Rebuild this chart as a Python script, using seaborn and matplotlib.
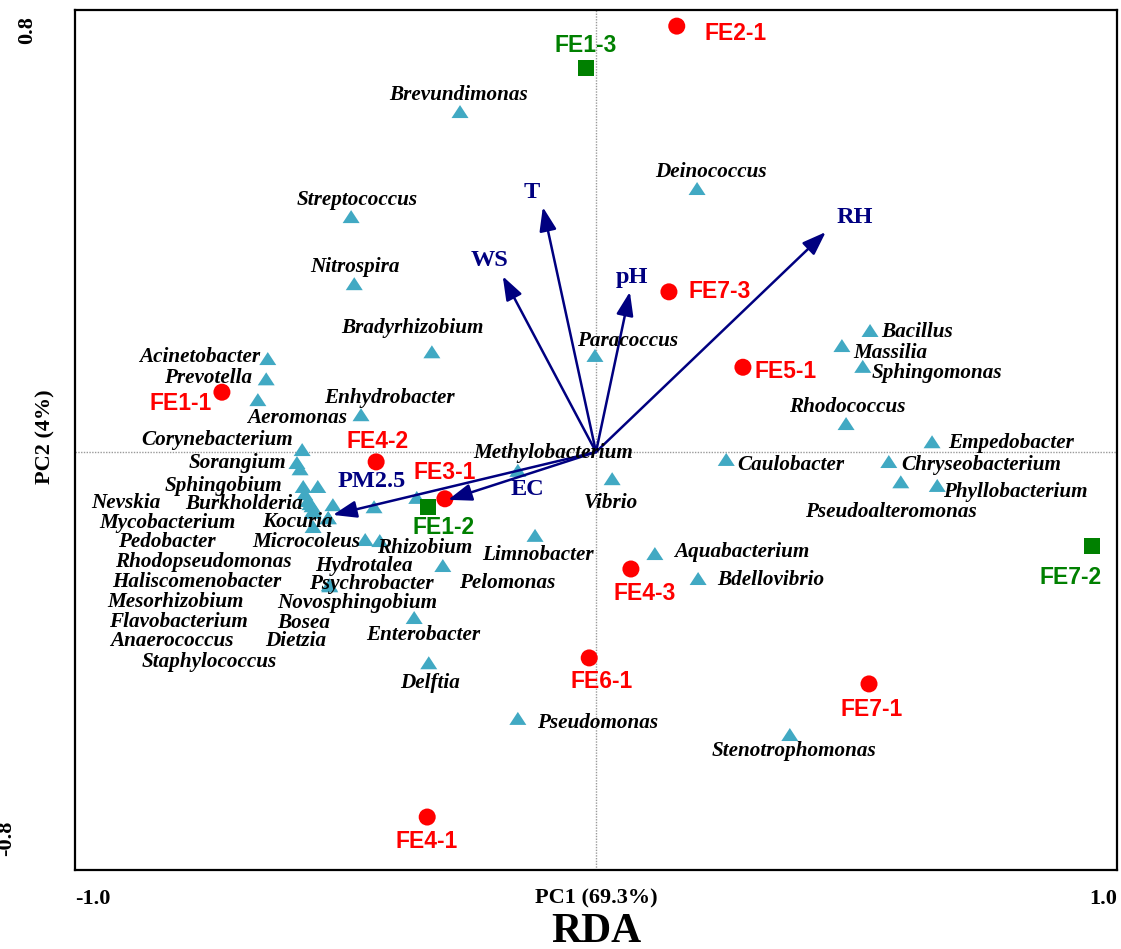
import matplotlib
matplotlib.use("Agg")
import matplotlib.pyplot as plt
import seaborn as sns
import pandas as pd

# ---------------- data ----------------
sample_red = ["FE2-1", "FE7-3", "FE5-1", "FE1-1", "FE4-2", "FE3-1", "FE4-3", "FE6-1", "FE7-1", "FE4-1"]
red_x = [0.155, 0.140, 0.282, -0.718, -0.422, -0.290, 0.067, -0.013, 0.524, -0.324]
red_y = [0.819, 0.308, 0.163, 0.115, -0.019, -0.090, -0.225, -0.396, -0.446, -0.702]

sample_green = ["FE1-3", "FE1-2", "FE7-2"]
green_x = [-0.019, -0.322, 0.952]
green_y = [0.738, -0.106, -0.181]

env_names = ["T", "WS", "pH", "RH", "PM2.5", "EC"]
env_x = [-0.102, -0.179, 0.065, 0.441, -0.505, -0.284]
env_y = [0.471, 0.338, 0.308, 0.423, -0.121, -0.092]

species = ["Brevundimonas", "Deinococcus", "Streptococcus", "Nitrospira", "Bradyrhizobium",
           "Paracoccus", "Bacillus", "Massilia", "Sphingomonas", "Rhodococcus",
           "Empedobacter", "Chryseobacterium", "Pseudoalteromonas", "Phyllobacterium",
           "Caulobacter", "Vibrio", "Methylobacterium", "Limnobacter", "Aquabacterium",
           "Bdellovibrio", "Pelomonas", "Enterobacter", "Delftia", "Pseudomonas",
           "Stenotrophomonas", "Acinetobacter", "Prevotella", "Aeromonas", "Enhydrobacter",
           "Corynebacterium", "Sorangium", "Nevskia", "Sphingobium", "Mycobacterium",
           "Burkholderia", "Pedobacter", "Rhodopseudomonas", "Kocuria", "Haliscomenobacter",
           "Mesorhizobium", "Hydrotalea", "Novosphingobium", "Microcoleus", "Rhizobium",
           "Psychrobacter", "Flavobacterium", "Anaerococcus", "Staphylococcus", "Bosea",
           "Dietzia"]
species_x = [-0.261, 0.194, -0.470, -0.464, -0.315,
             -0.002, 0.526, 0.472, 0.512, 0.480,
             0.645, 0.562, 0.585, 0.655,
             0.250, 0.031, -0.150, -0.117, 0.113,
             0.196, -0.294, -0.349, -0.321, -0.150,
             0.372, -0.630, -0.633, -0.649, -0.451,
             -0.564, -0.574, -0.568, -0.562, -0.534,
             -0.553, -0.545, -0.543, -0.514, -0.505,
             -0.543, -0.426, -0.344, -0.443, -0.415,
             -0.512, -0.549, -0.543, -0.559, -0.514,
             -0.511]
species_y = [0.652, 0.504, 0.450, 0.321, 0.190,
             0.183, 0.231, 0.202, 0.162, 0.052,
             0.017, -0.021, -0.060, -0.067,
             -0.017, -0.054, -0.038, -0.163, -0.198,
             -0.246, -0.221, -0.321, -0.408, -0.515,
             -0.546, 0.177, 0.138, 0.098, 0.069,
             0.002, -0.023, -0.035, -0.069, -0.069,
             -0.096, -0.106, -0.119, -0.129, -0.104,
             -0.146, -0.108, -0.090, -0.171, -0.173,
             -0.258, -0.102, -0.115, -0.083, -0.129,
             -0.260]

x_ticks = [-1.0, 0.0, 1.0]
x_tick_labels = ["-1.0", "PC1 (69.3%)", "1.0"]

# ---------------- layout (label offsets in pixels: dx right, dy down) ----------------
red_label_off = [(59, 7), (51, 0), (43, 4), (-41, 11), (1, -20), (0, -26),
                 (14, 24), (12, 24), (3, 26), (-1, 24)]
green_label_off = [(0, -23), (15, 20), (-21, 31)]
env_label_off = [(-11, -15), (-13, -16), (2, -14), (29, -15), (39, -33), (79, -10)]
species_label_off = [(-1, -18), (14, -18), (6, -18), (1, -18), (-19, -25),
                     (33, -16), (47, 0), (48, 6), (74, 5), (1, -18),
                     (79, 0), (92, 2), (-10, 29), (78, 5),
                     (65, 4), (-1, 23), (35, -19), (3, 18), (87, -3),
                     (73, 0), (64, 16), (9, 16), (1, 19), (80, 3),
                     (4, 15), (-68, -3), (-58, -2), (39, 17), (28, -18),
                     (-85, -11), (-60, -1), (-174, 33), (-80, -2), (-150, 35),
                     (-64, 2), (-145, 35), (-110, 48), (-31, 3), (-136, 76),
                     (-138, 74), (-10, 58), (-60, 104), (-59, 1), (45, 6),
                     (42, -2), (-132, 117), (-141, 129), (-96, 167), (-25, 104),
                     (-34, 54)]

RED = "#FF0000"
GREEN = "#008000"
CYAN = "#41A9C3"
NAVY = "#000080"

sns.set_theme(style="white")
plt.rcParams["font.family"] = ["Liberation Serif", "DejaVu Serif"]
plt.rcParams["text.color"] = "black"
plt.rcParams["xtick.color"] = "black"
plt.rcParams["ytick.color"] = "black"
plt.rcParams["xtick.labelcolor"] = "black"

fig = plt.figure(figsize=(11.21, 9.49), dpi=100)
ax = fig.add_axes([75 / 1121, 79 / 949, 1042 / 1121, 860 / 949])

ax.axvline(0, color="#9a9a9a", lw=1.0, ls=(0, (1, 1)), zorder=0)
ax.axhline(0, color="#9a9a9a", lw=1.0, ls=(0, (1, 1)), zorder=0)

tri = [(-1.0, -0.6), (1.0, -0.6), (0.0, 0.93)]
df_sp = pd.DataFrame({"x": species_x, "y": species_y, "name": species})
sns.scatterplot(data=df_sp, x="x", y="y", marker=tri, color=CYAN, s=150,
                edgecolor="none", linewidth=0, ax=ax, legend=False, zorder=3)

df_r = pd.DataFrame({"x": red_x, "y": red_y})
sns.scatterplot(data=df_r, x="x", y="y", marker="o", color=RED, s=150,
                edgecolor="none", linewidth=0, ax=ax, legend=False, zorder=4)
df_g = pd.DataFrame({"x": green_x, "y": green_y})
sns.scatterplot(data=df_g, x="x", y="y", marker="s", color=GREEN, s=135,
                edgecolor="none", linewidth=0, ax=ax, legend=False, zorder=4)

# arrows
for name, ex, ey, (dx, dy) in zip(env_names, env_x, env_y, env_label_off):
    ax.annotate("", xy=(ex, ey), xytext=(0, 0),
                arrowprops=dict(arrowstyle="-|>,head_length=0.72,head_width=0.26",
                                mutation_scale=20, color=NAVY, lw=1.8,
                                shrinkA=0, shrinkB=0), zorder=5)
    ax.annotate(name, xy=(ex, ey), xytext=(dx, -dy), textcoords="offset pixels",
                ha="center", va="center", fontsize=17.5, fontweight="bold",
                color=NAVY, zorder=6)

# species labels
for name, sx, sy, (dx, dy) in zip(species, species_x, species_y, species_label_off):
    ax.annotate(name, xy=(sx, sy), xytext=(dx, -dy), textcoords="offset pixels",
                ha="center", va="center", fontsize=15.2, fontweight="bold",
                fontstyle="italic", color="black", zorder=6)

# sample labels
for name, px, py, (dx, dy) in zip(sample_red, red_x, red_y, red_label_off):
    ax.annotate(name, xy=(px, py), xytext=(dx, -dy), textcoords="offset pixels",
                ha="center", va="center", fontsize=16.5, fontweight="bold",
                family=["Liberation Sans", "DejaVu Sans"], color=RED, zorder=6)
for name, px, py, (dx, dy) in zip(sample_green, green_x, green_y, green_label_off):
    ax.annotate(name, xy=(px, py), xytext=(dx, -dy), textcoords="offset pixels",
                ha="center", va="center", fontsize=16.5, fontweight="bold",
                family=["Liberation Sans", "DejaVu Sans"], color=GREEN, zorder=6)

ax.set_xlim(-1.0, 1.0)
ax.set_ylim(-418 / 520, 442 / 520)

ax.set_xticks(x_ticks)
ax.set_xticklabels(x_tick_labels, fontsize=16, fontweight="bold", color="black")
xl = ax.get_xticklabels()
xl[0].set_ha("left")
xl[2].set_ha("right")
ax.tick_params(axis="x", direction="inout", length=9, width=1.5, pad=9, colors="black")

ax.set_yticks([-0.5, 0.5])
ax.set_yticklabels([])
ax.tick_params(axis="y", direction="inout", length=9, width=1.5, colors="black")

for sp in ax.spines.values():
    sp.set_color("black")
    sp.set_linewidth(1.6)

ax.set_xlabel("")
ax.set_ylabel("")

fig.text(27 / 1121, 1 - 30 / 949, "0.8", rotation=90, ha="center", va="center",
         fontsize=16, fontweight="bold", color="black")
fig.text(6 / 1121, 1 - 838 / 949, "-0.8", rotation=90, ha="center", va="center",
         fontsize=16, fontweight="bold", color="black")
fig.text(45 / 1121, 1 - 437 / 949, "PC2 (4%)", rotation=90, ha="center", va="center",
         fontsize=16, fontweight="bold", color="black")
fig.text(596 / 1121, 1 - 932 / 949, "RDA", ha="center", va="center",
         fontsize=30, fontweight="bold", color="black")

fig.savefig("out.png", dpi=100)
